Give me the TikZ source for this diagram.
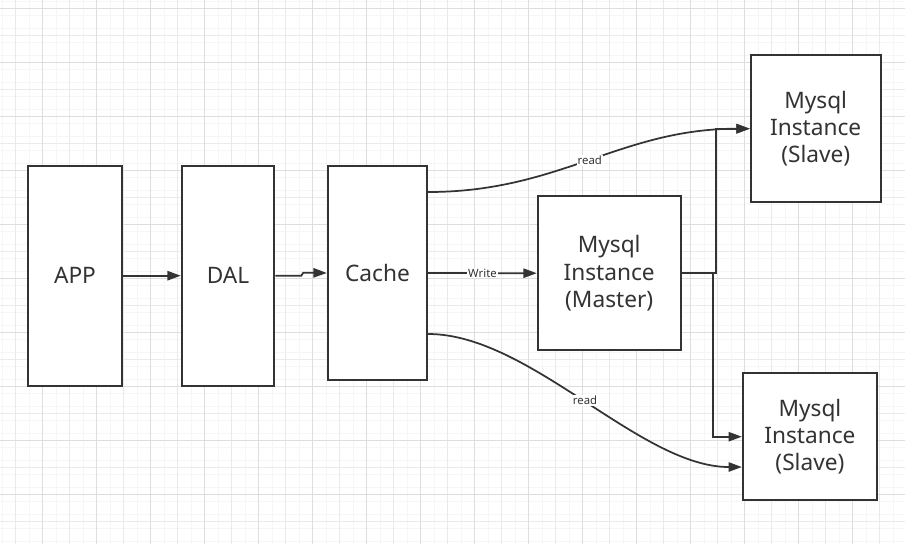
\documentclass[tikz,border=0pt]{standalone}
\usepackage{fontspec}
\setmainfont{Noto Sans}
\usetikzlibrary{arrows.meta,calc}
\definecolor{linegray}{HTML}{333333}
\definecolor{gridfaint}{HTML}{F6F6F6}
\definecolor{gridmid}{HTML}{EAEAEA}
\definecolor{griddark}{HTML}{DEDEDE}
\tikzset{
  box/.style={draw=linegray, line width=1.4pt, fill=white, text=linegray,
    font=\fontsize{17}{20.5}\selectfont, align=center, inner sep=0pt},
  conn/.style={draw=linegray, line width=1.3pt, -{Triangle[length=10pt,width=7pt]}},
  lbl/.style={fill=white, text=linegray, font=\fontsize{8.5}{10}\selectfont, inner sep=0.6pt}
}
\begin{document}
\begin{tikzpicture}[x=0.75pt,y=0.75pt,yscale=-1,xscale=1]
    \useasboundingbox (0,0) rectangle (905,544);
    \fill[white] (0,0) rectangle (905,544);

    %Grid background
    \foreach \k in {0,...,67} \draw[gridfaint, line width=0.6pt] ({2.2+13.5*\k},0) -- ++(0,544);
    \foreach \k in {0,...,40} \draw[gridfaint, line width=0.6pt] (0,{1.55+13.5*\k}) -- ++(905,0);
    \foreach \k in {0,...,33} \draw[gridmid, line width=0.6pt] ({15.7+27*\k},0) -- ++(0,544);
    \foreach \k in {0,...,20} \draw[gridmid, line width=0.6pt] (0,{8.3+27*\k}) -- ++(905,0);
    \foreach \k in {0,...,16} \draw[griddark, line width=0.6pt] ({42.7+54*\k},0) -- ++(0,544);
    \foreach \k in {0,...,10} \draw[griddark, line width=0.6pt] (0,{8.3+54*\k}) -- ++(905,0);

    %Boxes
    \node[box, minimum width=70pt, minimum height=165pt] (app) at (75,275.7) {APP};
    \node[box, minimum width=69.5pt, minimum height=165pt] (dal) at (228,275.7) {DAL};
    \node[box, minimum width=74.7pt, minimum height=160.5pt] (cache) at (377.5,273) {Cache};
    \node[box, minimum width=107.3pt, minimum height=115.5pt] (master) at (609.2,273.2) {Mysql\\Instance\\(Master)};
    \node[box, minimum width=97.5pt, minimum height=110.5pt] (slaveA) at (815.7,128.7) {Mysql\\Instance\\(Slave)};
    \node[box, minimum width=100.7pt, minimum height=95pt] (slaveB) at (809.9,436.7) {Mysql\\Instance\\(Slave)};

    %Connectors
    \draw[conn] (app.east) -- (dal.west);
    \draw[conn] (dal.east) -- ++(26,0) -- ++(2,-3) -- (cache.west);
    \draw[conn] (cache.east) -- node[lbl] {Write} (master.west);
    \draw[conn] (master.east) -- ++(34,0) |- (slaveA.west);
    \draw[conn] (master.east) -- ++(31,0) |- (slaveB.west);

    %Curve Lines
    \draw[conn] ($(cache.east)+(0,-81)$) .. controls (560,192) and (620,128.7) .. node[lbl, pos=0.5] {read} (slaveA.west);
    \draw[conn] ($(cache.east)+(0,61)$) .. controls (530,334) and (640,467) .. node[lbl, pos=0.5] {read} ($(slaveB.west)+(0,30.3)$);

\end{tikzpicture}
\end{document}
